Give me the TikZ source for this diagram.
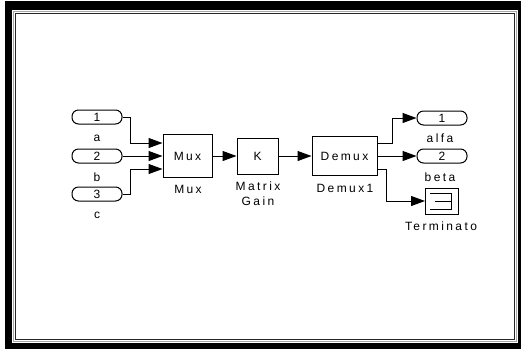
\documentclass[tikz,border=0pt]{standalone}
\usepackage{fontspec}
\setmainfont{Liberation Sans}[LetterSpace=20]
\usetikzlibrary{arrows.meta,calc}
\begin{document}
\begin{tikzpicture}[x=1pt,y=-1pt,
  txt/.style={font=\fontsize{12}{14}\selectfont, inner sep=0pt},
  port/.style={draw, line width=1pt, rounded corners=6.5pt, minimum width=50pt, minimum height=14pt, inner sep=0pt, font=\fontsize{12}{14}\selectfont},
  blk/.style={draw, line width=1pt, inner sep=0pt, font=\fontsize{12}{14}\selectfont},
  arr/.style={line width=1pt, -{Triangle[length=14pt,width=10pt]}}]
\useasboundingbox (0,0) rectangle (521,349);
% frame
\fill[black] (5,1) rectangle (521,349);
\fill[white] (12,10) rectangle (518,343);
\draw[line width=1.2pt, gray!70] (13.6,11.6) rectangle (516.4,341.4);
\draw[line width=1.4pt, black!85] (15.5,13.5) rectangle (514.5,339.5);
% inports
\node[port] (in1) at (97,117) {1};
\node[port] (in2) at (97,156) {2};
\node[port] (in3) at (97,194) {3};
\node[txt] (la) at (97,138) {a};
\node[txt] (lb) at (97,177) {b};
\node[txt] (lc) at (97,215) {c};
% blocks
\node[blk, minimum width=49pt, minimum height=43pt] (mux) at (187.5,156) {Mux};
\node[txt] (lmux) at (188,189) {Mux};
\node[blk, minimum width=41pt, minimum height=36pt] (gain) at (257.5,156) {K};
\node[txt] (lg1) at (258,186) {Matrix};
\node[txt] (lg2) at (258,201) {Gain};
\node[blk, minimum width=65pt, minimum height=39pt] (demux) at (344.5,156) {Demux};
\node[txt] (ld) at (345,188) {Demux1};
% outports
\node[port] (out1) at (442,118) {1};
\node[port] (out2) at (442,156) {2};
\node[txt] (lo1) at (440,138) {alfa};
\node[txt] (lo2) at (440,177) {beta};
\node[blk, minimum width=33pt, minimum height=26pt] (term) at (442,201) {};
\node[txt] (lt) at (441,226) {Terminato};
\draw[line width=1pt] ($(term.center)+(-12,-8)$) -- ++(21,0) -- ++(0,16) -- ++(-21,0);
\draw[line width=1pt] ($(term.center)+(-7,0)$) -- ++(16,0);
% junction coordinates
\coordinate (jin) at (130,0);
\coordinate (m1) at ($(mux.west)+(0,-13)$);
\coordinate (m3) at ($(mux.west)+(0,13)$);
\coordinate (d1) at ($(demux.east)+(0,-13)$);
\coordinate (d3) at ($(demux.east)+(0,13)$);
\coordinate (jo1) at (392,0);
\coordinate (jo3) at (386,0);
% wires
\draw[arr] (in1.east) -- (in1.east -| jin) |- (m1);
\draw[arr] (in2.east) -- (mux.west);
\draw[arr] (in3.east) -- (in3.east -| jin) |- (m3);
\draw[arr] (mux.east) -- (gain.west);
\draw[arr] (gain.east) -- (demux.west);
\draw[arr] (d1) -- (d1 -| jo1) |- (out1.west);
\draw[arr] (demux.east) -- (out2.west);
\draw[arr] (d3) -- (d3 -| jo3) |- (term.west);
\end{tikzpicture}
\end{document}
